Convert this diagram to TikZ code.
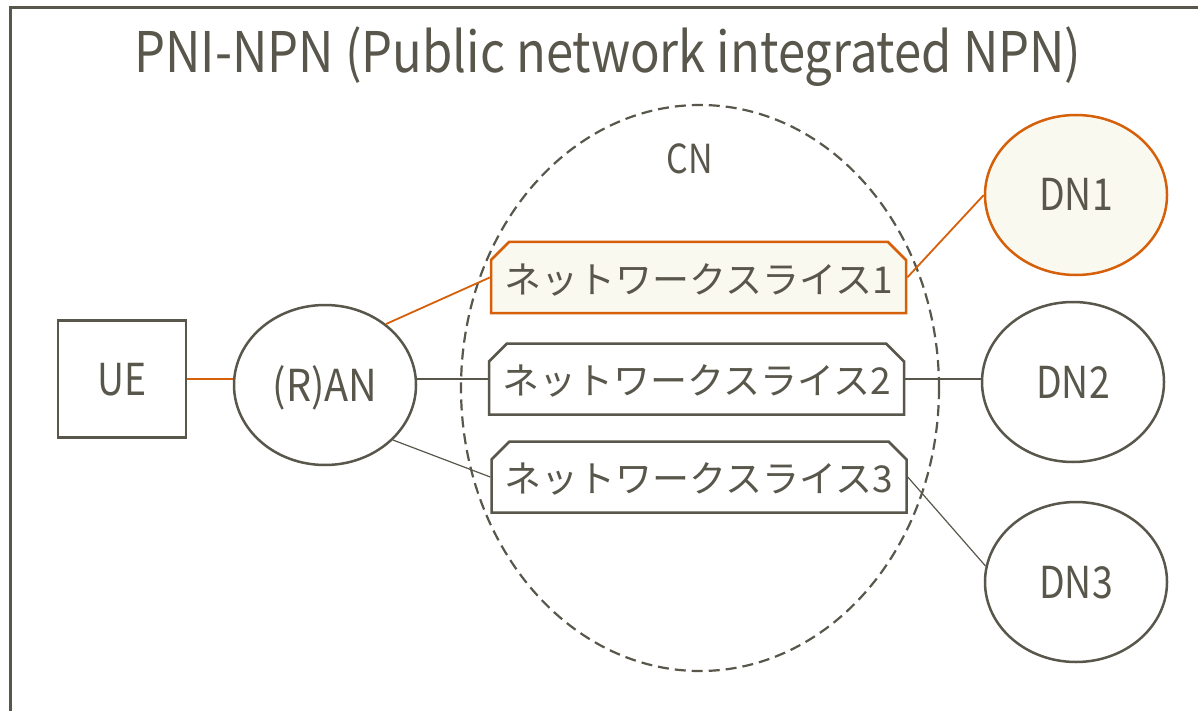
\documentclass[tikz,border=0pt]{standalone}
\usepackage{fontspec}
\setmainfont{Noto Sans CJK JP}
\usetikzlibrary{shapes.geometric,shapes.misc}
\definecolor{ink}{RGB}{89,87,75}
\definecolor{accent}{RGB}{214,96,10}
\definecolor{cream}{RGB}{250,249,240}
% narrow Latin lettering
\newcommand{\narrow}[2][0.85]{\scalebox{#1}[1]{#2}}

\begin{document}
\begin{tikzpicture}[x=1pt,y=-1pt,
  label/.style={text=ink,inner sep=0pt,font=\fontsize{44}{44}\selectfont,text height=32pt,text depth=0pt},
  ovalnode/.style={ellipse,draw=ink,line width=2.5pt,fill=white,minimum width=182pt,minimum height=160pt,inner sep=0pt,text=ink,font=\fontsize{44}{44}\selectfont,text height=32pt,text depth=0pt},
  hot/.style={draw=accent,fill=cream},
  slice/.style={chamfered rectangle,chamfered rectangle corners={north west,north east},chamfered rectangle xsep=9pt,chamfered rectangle ysep=9pt,draw=ink,line width=2.5pt,fill=white,minimum width=415pt,minimum height=71pt,inner sep=0pt,text=ink,font=\fontsize{37}{37}\selectfont,text height=31pt,text depth=0pt},
  wire/.style={ink,line width=1.2pt},
  hotwire/.style={draw=accent,line width=1.8pt}]
\clip (0,0) rectangle (1198,711);
\fill[white] (0,0) rectangle (1198,711);
% outer frame
\draw[ink,line width=3pt] (10,8) rectangle (1230,740);
% title
\node[text=ink,inner sep=0pt,anchor=base,font=\fontsize{56}{56}\selectfont] (title) at (608,73) {\narrow[0.875]{PNI-NPN (Public network integrated NPN)}};
% core network
\node[ellipse,draw=ink,dashed,dash pattern=on 11pt off 6pt,line width=2.2pt,minimum width=478pt,minimum height=566pt,inner sep=0pt] (cn) at (700,388) {};
\node[label,font=\fontsize{40}{40}\selectfont,text height=28pt] (cnlabel) at (690,160) {\narrow{CN}};
% terminal and access network
\node[draw=ink,line width=2.5pt,minimum width=128pt,minimum height=117pt,inner sep=0pt,text=ink,font=\fontsize{44}{44}\selectfont,text height=32pt,text depth=0pt] (ue) at (122,379) {\narrow{UE}};
\node[ovalnode] (ran) at (325,385) {\narrow[0.9]{(R)AN}};
% slices
\node[slice,hot] (s1) at (698.5,277.5) {ネットワークスライス1};
\node[slice] (s2) at (696.5,379) {ネットワークスライス2};
\node[slice] (s3) at (699,477) {ネットワークスライス3};
% data networks
\node[ovalnode,hot] (dn1) at (1076,195) {\narrow{DN1}};
\node[ovalnode] (dn2) at (1073,382) {\narrow{DN2}};
\node[ovalnode] (dn3) at (1076,582) {\narrow{DN3}};
% links
\draw[hotwire] (ue.east) -- (ran.west |- ue.east);
\draw[hotwire] (ran.45) -- (s1.west);
\draw[wire] (ran.east |- s2.west) -- (s2.west);
\draw[wire] (ran.-39) -- (s3.west);
\draw[hotwire] (s1.east) -- (dn1.west);
\draw[wire] (s2.east) -- (dn2.west |- s2.east);
\draw[wire] (s3.east) -- (dn3.170);
\end{tikzpicture}
\end{document}
